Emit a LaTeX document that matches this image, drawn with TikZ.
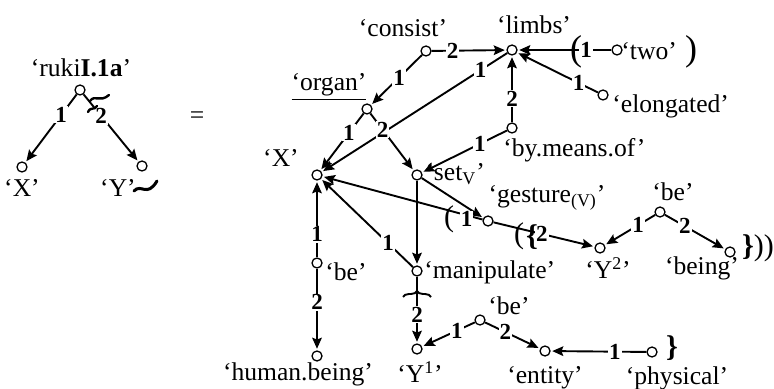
\documentclass[tikz,border=0pt]{standalone}
\usepackage{fontspec}
\setmainfont{Liberation Serif}
\usetikzlibrary{arrows.meta,decorations.pathreplacing}
\begin{document}
\begin{tikzpicture}[x=0.5pt,y=-0.5pt,
  pt/.style={circle,draw,line width=0.65pt,inner sep=0pt,minimum size=5pt},
  txt/.style={inner sep=0pt,font=\fontsize{12.8}{14}\selectfont},
  num/.style={fill=white,inner sep=0.5pt,font=\fontsize{11.5}{11.5}\selectfont\bfseries},
  arr/.style={line width=0.95pt,-{Stealth[length=5.5pt,width=4.8pt,inset=0.9pt]},shorten >=0.8pt},
  ln/.style={line width=0.95pt},
  sq/.style={line width=1.2pt,line cap=round},
  bigp/.style={inner sep=0pt,font=\fontsize{18}{18}\selectfont},
  midp/.style={inner sep=0pt,font=\fontsize{15}{15}\selectfont}]
\useasboundingbox (0,0) rectangle (774,389);

% ---------- left part ----------
\node[pt] (ruki) at (80,90) {};
\node[pt] (xl) at (22,167) {};
\node[pt] (yl) at (142,166) {};
\node[txt] (rukit) at (81,68) {‘ruki\textbf{I.1a}’};
\node[txt] (xlt) at (22,188) {‘X’};
\node[txt] (ylt) at (118,188) {‘Y’};
\node[txt] (eq) at (197,118) {=};
\draw[arr] (ruki) -- node[num,pos=0.30]{1} (xl);
\draw[arr] (ruki) -- node[num,pos=0.32]{2} (yl);
\draw[sq] (90,101) .. controls (95,94) and (100,103) .. (109,95);
\draw[sq] (88,112) .. controls (91,106) and (94,111) .. (97,106);
\draw[line width=1.5pt,line cap=round] (134,191) .. controls (141,183) and (147,198) .. (157,181);

% ---------- right part: nodes ----------
\node[pt] (consist) at (426,51) {};
\node[pt] (limbs) at (512,50) {};
\node[pt] (organ) at (367,109) {};
\node[pt] (two) at (617,50) {};
\node[pt] (elong) at (603,95) {};
\node[pt] (bmo) at (512,128) {};
\node[pt] (X) at (317,175) {};
\node[pt] (set) at (417,175) {};
\node[pt] (gest) at (488,221) {};
\node[pt] (Y2) at (600,248) {};
\node[pt] (ber) at (660,212) {};
\node[pt] (being) at (730,252) {};
\node[pt] (manip) at (417,271) {};
\node[pt] (bel) at (317,263) {};
\node[pt] (human) at (317,356) {};
\node[pt] (Y1) at (417,349) {};
\node[pt] (bel2) at (480,320) {};
\node[pt] (entity) at (545,351) {};
\node[pt] (phys) at (652,352) {};

% ---------- labels ----------
\node[txt] (consistt) at (403,28) {‘consist’};
\node[txt] (limbst) at (534,25) {‘limbs’};
\node[txt,anchor=west] (twot) at (621,51) {‘two’};
\node[txt,anchor=west] (elongt) at (612,106) {‘elongated’};
\node[txt] (organt) at (329,87) {\underline{‘organ’}};
\node[txt,anchor=west] (bmot) at (503,150) {‘by.means.of’};
\node[txt] (Xt) at (281,158) {‘X’};
\node[txt,anchor=west] (sett) at (425,174) {‘set\textsubscript{V}’};
\node[txt] (gestt) at (547,198) {‘gesture\textsubscript{(V)}’};
\node[txt] (bert) at (673,192) {‘be’};
\node[txt] (Y2t) at (608,268) {‘Y\textsuperscript{2}’};
\node[txt] (beingt) at (702,268) {‘being’};
\node[txt,anchor=west] (manipt) at (424,272) {‘manipulate’};
\node[txt,anchor=west] (belt) at (325,272) {‘be’};
\node[txt] (humant) at (298,374) {‘human.being’};
\node[txt] (Y1t) at (420,372) {‘Y\textsuperscript{1}’};
\node[txt] (bel2t) at (509,306) {‘be’};
\node[txt] (entityt) at (545,378) {‘entity’};
\node[txt] (physt) at (677,378) {‘physical’};

% ---------- edges ----------
\draw[arr] (limbs) -- node[num,pos=0.144]{1} (X);
\draw[arr] (consist) -- node[num,pos=0.28]{2} (limbs);
\draw[arr] (consist) -- node[num,pos=0.45]{1} (organ);
\draw[arr] (organ) -- node[num,pos=0.34]{1} (X);
\draw[arr] (organ) -- node[num,pos=0.28]{2} (set);
\draw[arr] (two) -- node[num,pos=0.27]{1} (limbs);
\draw[arr] (elong) -- node[num,pos=0.24]{1} (limbs);
\draw[arr] (bmo) -- node[num,pos=0.355]{2} (limbs);
\draw[arr] (bmo) -- node[num,pos=0.32]{1} (set);
\draw[arr] (set) -- (manip);
\draw[arr] (set) -- (gest);
\draw[arr] (gest) -- node[num,pos=0.10,yshift=-2pt]{1} (X);
\draw[arr] (gest) -- node[num,pos=0.48]{2} (Y2);
\draw[arr] (ber) -- node[num,pos=0.34]{1} (Y2);
\draw[arr] (ber) -- node[num,pos=0.33]{2} (being);
\draw[arr] (manip) -- node[num,pos=0.27]{1} (X);
\draw[arr] (bel) -- node[num,pos=0.30]{1} (X);
\draw[arr] (bel) -- node[num,pos=0.41]{2} (human);
\draw[arr] (manip) -- node[num,pos=0.57]{2} (Y1);
\draw[arr] (bel2) -- node[num,pos=0.34]{1} (Y1);
\draw[arr] (bel2) -- node[num,pos=0.37]{2} (entity);
\draw[arr] (phys) -- node[num,pos=0.33]{1} (entity);

% ---------- brackets ----------
\node[bigp] (p1) at (576,52) {(};
\node[bigp] (p2) at (691,52) {)};
\node[midp] (p3) at (449,219) {(};
\node[midp] (p4) at (519,236) {(};
\node[midp] (p5) at (532,237) {\textbf{\{}};
\node[midp] (p6) at (758,248) {\textbf{\}}))};
\node[midp] (p7) at (672,348) {\textbf{\}}};
\draw[ln,decorate,decoration={brace,amplitude=3pt}] (403,297) -- (431,297);
\end{tikzpicture}
\end{document}
